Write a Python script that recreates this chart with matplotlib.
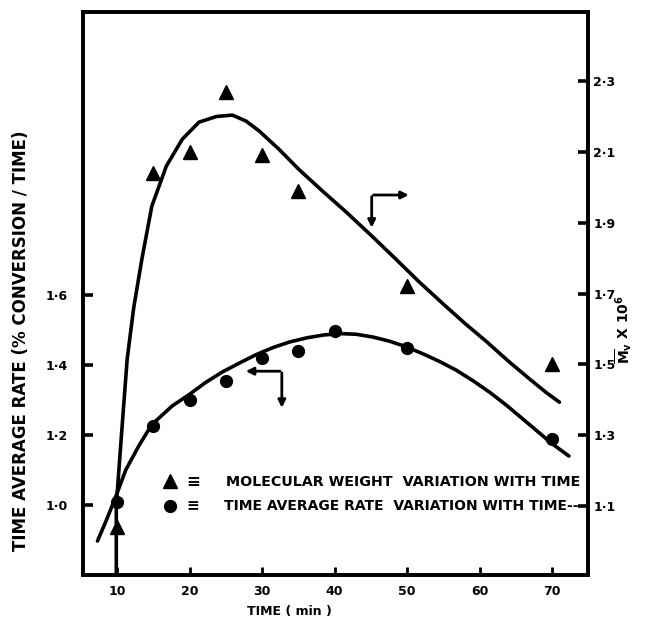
import matplotlib
matplotlib.use("Agg")
import matplotlib.pyplot as plt

# ---- data ----
# molecular weight (right axis, Mv x 10^-6)
mw_time = [10, 15, 20, 25, 30, 35, 50, 70]
mw_vals = [1.04, 2.04, 2.10, 2.27, 2.09, 1.99, 1.72, 1.50]
# hand-drawn curve for molecular weight
mw_curve_t = [9.9, 9.9, 10.0, 10.7, 11.4, 12.3, 13.45, 14.8, 16.8, 19.0, 21.3, 23.7, 25.9,
              27.8, 29.6, 32.3, 35.1, 38.3, 41.6, 45.0, 48.3, 51.7, 55.0, 58.0, 60.9,
              63.9, 66.8, 69.2, 71.0]
mw_curve_v = [0.905, 1.10, 1.13, 1.325, 1.515, 1.66, 1.80, 1.947, 2.06, 2.136, 2.184, 2.20,
              2.204, 2.187, 2.159, 2.108, 2.05, 1.99, 1.93, 1.865, 1.80, 1.732, 1.67,
              1.615, 1.565, 1.51, 1.46, 1.42, 1.393]

# time average rate (left axis)
rate_time = [10, 15, 20, 25, 30, 35, 40, 50, 70]
rate_vals = [1.01, 1.226, 1.30, 1.354, 1.42, 1.44, 1.497, 1.45, 1.19]
rate_curve_t = [7.3, 8.5, 9.7, 11.2, 13.0, 14.8, 17.6, 19.9, 22.2, 24.5, 26.8, 29.2, 31.5,
                33.8, 36.2, 38.5, 40.8, 43.0, 45.3, 47.6, 49.9, 52.2, 54.5, 56.8, 59.1,
                61.4, 63.7, 66.0, 68.0, 70.0, 72.3]
rate_curve_v = [0.897, 0.955, 1.017, 1.10, 1.169, 1.23, 1.283, 1.315, 1.35, 1.38, 1.405,
                1.43, 1.45, 1.466, 1.478, 1.486, 1.49, 1.488, 1.48, 1.468, 1.452, 1.432,
                1.41, 1.385, 1.355, 1.322, 1.285, 1.245, 1.21, 1.175, 1.14]

x_ticks = [10, 20, 30, 40, 50, 60, 70]
left_ticks = [1.0, 1.2, 1.4, 1.6]
left_labels = ["1·0", "1·2", "1·4", "1·6"]
right_ticks = [1.1, 1.3, 1.5, 1.7, 1.9, 2.1, 2.3]
right_labels = ["1·1", "1·3", "1·5", "1·7", "1·9", "2·1", "2·3"]

plt.rcParams['font.family'] = ['DejaVu Sans']
plt.rcParams['font.weight'] = 'bold'

fig = plt.figure(figsize=(6.48, 6.22), dpi=100)
ax = fig.add_axes([0.128, 0.0756, 0.779, 0.905])
ax2 = ax.twinx()

lw_sp = 2.6
for a in (ax, ax2):
    for s in a.spines.values():
        s.set_linewidth(lw_sp)

ax.set_xlim(5.3, 74.9)
ax.set_ylim(0.80, 2.409)
ax2.set_ylim(0.905, 2.495)

# curves and points
ax2.plot(mw_curve_t, mw_curve_v, color='black', lw=2.6, solid_capstyle='round',
         solid_joinstyle='round')
ax2.plot(mw_time, mw_vals, linestyle='none', marker='^', color='black', markersize=9.5)
ax.plot(rate_curve_t, rate_curve_v, color='black', lw=2.6, solid_capstyle='round',
        solid_joinstyle='round')
ax.plot(rate_time, rate_vals, linestyle='none', marker='o', color='black', markersize=8.5)

# ticks
ax.set_xticks(x_ticks)
ax.set_xticklabels([str(t) for t in x_ticks], fontsize=9, fontweight='bold')
ax.set_yticks(left_ticks)
ax.set_yticklabels(left_labels, fontsize=9, fontweight='bold')
ax2.set_yticks(right_ticks)
ax2.set_yticklabels(right_labels, fontsize=9, fontweight='bold')
ax.tick_params(axis='x', direction='in', length=6, width=2, pad=7)
ax.tick_params(axis='y', direction='in', length=7, width=2.6, pad=11)
ax2.tick_params(axis='y', direction='in', length=7, width=2.6, pad=4)

# axis labels
ax.set_xlabel("TIME ( min )", fontsize=9, fontweight='bold')
ax.xaxis.set_label_coords(0.41, -0.053)
ax.set_ylabel("TIME AVERAGE RATE (% CONVERSION / TIME)", fontsize=12, fontweight='bold')
ax.yaxis.set_label_coords(-0.105, 0.416)
ax2.set_ylabel(r"$\overline{\mathbf{M}}_{\mathbf{v}}$ X 10$^{6}$", fontsize=10,
               fontweight='bold', rotation=90)
ax2.yaxis.set_label_coords(1.051, 0.436)

# direction arrows
arrow_kw = dict(arrowstyle='-|>', color='black', lw=2.0, mutation_scale=11)
ax.annotate('', xy=(0.651, 0.675), xytext=(0.570, 0.675), xycoords='axes fraction',
            arrowprops=arrow_kw)
ax.annotate('', xy=(0.572, 0.612), xytext=(0.572, 0.677), xycoords='axes fraction',
            arrowprops=arrow_kw)
ax.annotate('', xy=(0.317, 0.362), xytext=(0.396, 0.362), xycoords='axes fraction',
            arrowprops=arrow_kw)
ax.annotate('', xy=(0.394, 0.292), xytext=(0.394, 0.364), xycoords='axes fraction',
            arrowprops=arrow_kw)

# legend (drawn as text in the plot)
ax.plot([0.172], [0.167], marker='^', color='black', markersize=9.5, transform=ax.transAxes,
        clip_on=False)
ax.plot([0.172], [0.123], marker='o', color='black', markersize=8.5, transform=ax.transAxes,
        clip_on=False)
ax.text(0.218, 0.165, "≡", transform=ax.transAxes, fontsize=12, fontweight='bold',
        ha='center', va='center')
ax.text(0.218, 0.123, "≡", transform=ax.transAxes, fontsize=11, fontweight='bold',
        ha='center', va='center')
ax.text(0.283, 0.165, "MOLECULAR WEIGHT  VARIATION WITH TIME", transform=ax.transAxes,
        fontsize=10.3, fontweight='bold', ha='left', va='center')
ax.text(0.279, 0.123, "TIME AVERAGE RATE  VARIATION WITH TIME--", transform=ax.transAxes,
        fontsize=10.0, fontweight='bold', ha='left', va='center')

fig.savefig("out.png", dpi=100)
